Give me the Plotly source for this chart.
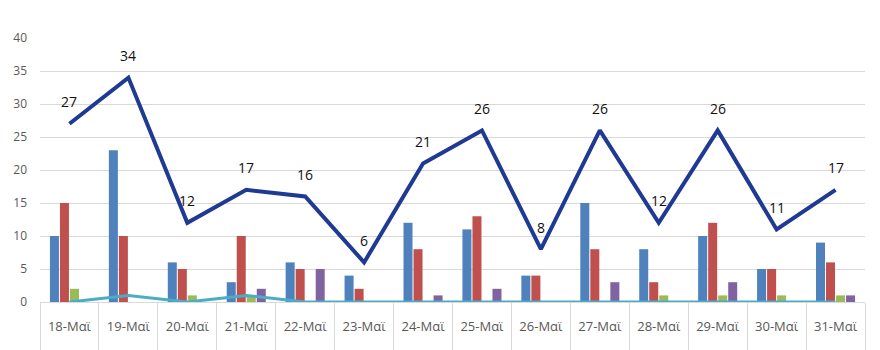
import plotly.graph_objects as go

dates = ["18-Μαϊ", "19-Μαϊ", "20-Μαϊ", "21-Μαϊ", "22-Μαϊ", "23-Μαϊ", "24-Μαϊ",
         "25-Μαϊ", "26-Μαϊ", "27-Μαϊ", "28-Μαϊ", "29-Μαϊ", "30-Μαϊ", "31-Μαϊ"]
s_blue = [10, 23, 6, 3, 6, 4, 12, 11, 4, 15, 8, 10, 5, 9]
s_red = [15, 10, 5, 10, 5, 2, 8, 13, 4, 8, 3, 12, 5, 6]
s_green = [2, 0, 1, 1, 0, 0, 0, 0, 0, 0, 1, 1, 1, 1]
s_purple = [0, 0, 0, 2, 5, 0, 1, 2, 0, 3, 0, 3, 0, 1]
s_cyan = [0, 1, 0, 1, 0, 0, 0, 0, 0, 0, 0, 0, 0, 0]
totals = [27, 34, 12, 17, 16, 6, 21, 26, 8, 26, 12, 26, 11, 17]
y_ticks = [0, 5, 10, 15, 20, 25, 30, 35, 40]

fig = go.Figure()
for vals, col in [(s_blue, "#4F81BD"), (s_red, "#C0504D"),
                  (s_green, "#9BBB59"), (s_purple, "#8064A2")]:
    fig.add_trace(go.Bar(x=dates, y=vals, marker=dict(color=col, line=dict(width=0)),
                         showlegend=False))
fig.add_trace(go.Scatter(x=dates, y=s_cyan, mode="lines",
                         line=dict(color="#4BACC6", width=3), showlegend=False))
fig.add_trace(go.Scatter(x=dates, y=totals, mode="lines",
                         line=dict(color="#1F3A93", width=4), showlegend=False))
for d, t in zip(dates, totals):
    fig.add_annotation(x=d, y=t, text=str(t), showarrow=False, yshift=22,
                       font=dict(size=14, color="#111111"))

fig.update_layout(
    width=880, height=350,
    margin=dict(l=40, r=15, t=38, b=48),
    paper_bgcolor="white", plot_bgcolor="white",
    barmode="group", bargap=0.32, bargroupgap=0.1,
    font=dict(family="Open Sans, Liberation Sans, sans-serif", color="#595959"),
    xaxis=dict(type="category", showgrid=False, showline=True, linecolor="#D9D9D9",
               ticks="outside", tickson="boundaries", ticklen=47, tickcolor="#D9D9D9",
               tickfont=dict(size=13, color="#595959"), ticklabelstandoff=12,
               automargin=False),
    yaxis=dict(range=[0, 40], tickvals=y_ticks, showgrid=True, gridcolor="#D9D9D9",
               gridwidth=1, zeroline=False, tickfont=dict(size=12, color="#595959"),
               ticklabelstandoff=12, automargin=False),
)
fig.write_html("out.html")
